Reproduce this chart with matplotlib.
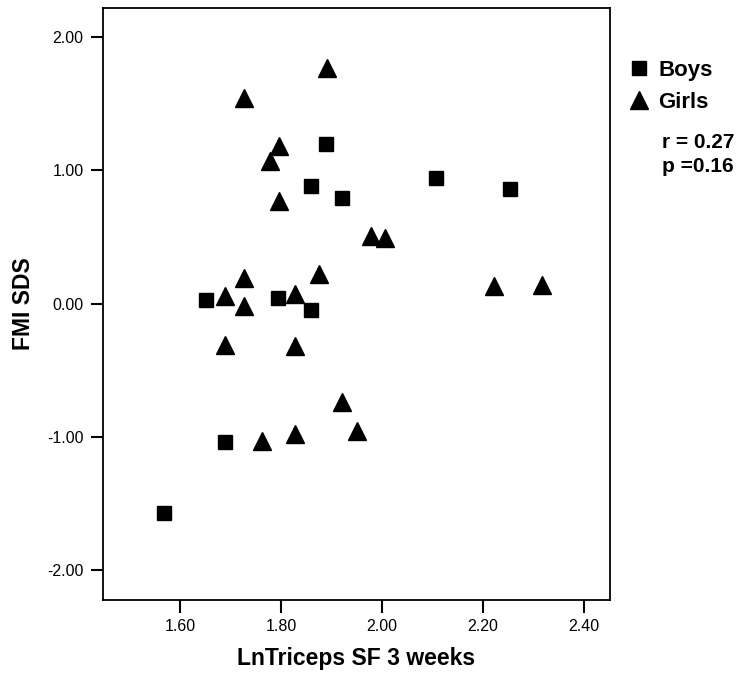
import matplotlib.pyplot as plt
from matplotlib.lines import Line2D

plt.rcParams['font.family'] = ['Liberation Sans', 'DejaVu Sans']

# Boys (squares)
boys_x = [1.651, 1.689, 1.568, 1.890, 1.859, 1.920, 2.107, 2.254, 1.795, 1.860]
boys_y = [0.03, -1.04, -1.57, 1.20, 0.88, 0.79, 0.94, 0.86, 0.04, -0.045]

# Girls (triangles)
girls_x = [1.726, 1.726, 1.690, 1.726, 1.689, 1.762, 1.892, 1.796, 1.778, 1.796,
           1.978, 2.005, 1.876, 2.222, 2.316, 1.828, 1.828, 1.920, 1.828, 1.950]
girls_y = [1.54, 0.19, 0.06, -0.015, -0.31, -1.03, 1.77, 1.18, 1.07, 0.77,
           0.505, 0.49, 0.22, 0.13, 0.14, 0.07, -0.32, -0.74, -0.98, -0.96]

x_ticks = [1.60, 1.80, 2.00, 2.20, 2.40]
y_ticks = [-2.00, -1.00, 0.00, 1.00, 2.00]

fig = plt.figure(figsize=(7.51, 6.81), dpi=100)
ax = fig.add_axes([103 / 751, 81 / 681, 507 / 751, 592 / 681])

ax.plot(boys_x, boys_y, linestyle='none', marker='s', markersize=10, color='black')
ax.plot(girls_x, girls_y, linestyle='none', marker='^', markersize=12.5, color='black')

ax.set_xlim(1.4475, 2.4515)
ax.set_ylim(-2.225, 2.218)
ax.set_xticks(x_ticks)
ax.set_yticks(y_ticks)
ax.set_xticklabels(['%.2f' % v for v in x_ticks])
ax.set_yticklabels(['%.2f' % v for v in y_ticks])
ax.tick_params(direction='out', length=9, width=1.5, labelsize=11.5, pad=5)
for s in ax.spines.values():
    s.set_linewidth(1.3)

ax.set_xlabel('LnTriceps SF 3 weeks', fontsize=16.5, fontweight='bold', labelpad=9)
ax.set_ylabel('FMI SDS', fontsize=16.5, fontweight='bold')
ax.yaxis.set_label_coords((35 - 103) / 507, 0.5)

handles = [Line2D([], [], linestyle='none', marker='s', markersize=10, color='black'),
           Line2D([], [], linestyle='none', marker='^', markersize=12.5, color='black')]
fig.legend(handles, ['Boys', 'Girls'], loc='upper left',
           bbox_to_anchor=(628 / 751, 1 - 60 / 681), frameon=False,
           handlelength=1.0, handletextpad=0.35, borderpad=0, borderaxespad=0,
           labelspacing=0.48, prop={'size': 16, 'weight': 'bold'})

fig.text(662 / 751, 1 - 143 / 681, 'r = 0.27', fontsize=15, fontweight='bold', va='center')
fig.text(662 / 751, 1 - 167 / 681, 'p =0.16', fontsize=15, fontweight='bold', va='center')

fig.savefig('out.png', dpi=100)
